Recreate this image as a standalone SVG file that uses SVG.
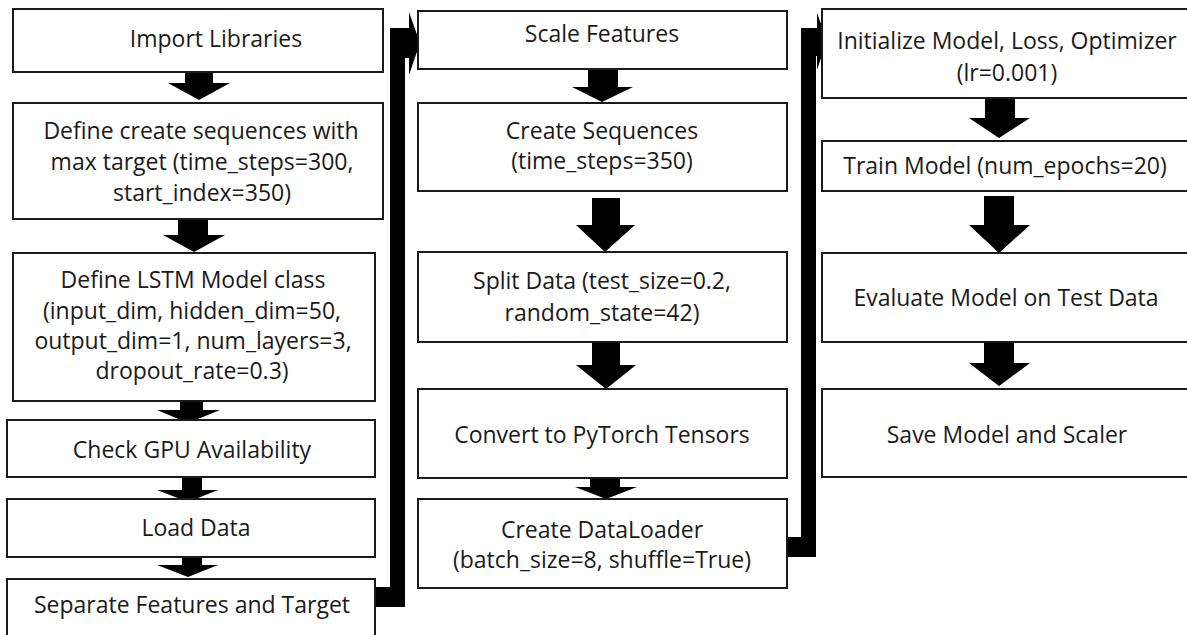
<svg xmlns="http://www.w3.org/2000/svg" width="1187" height="635" viewBox="0 0 1187 635">
<style>
.box{fill:#fff;stroke:#1a1a1a;stroke-width:2}
.t{font-family:"Open Sans","Liberation Sans",sans-serif;font-size:23px;fill:#1a1a1a;text-anchor:middle}
.arr{fill:#000}
</style>
<rect width="1187" height="635" fill="#fff"/>
<g id="connectors">
<polygon class="arr" points="185,72 213,72 213,83 230,83 199,100 168,83 185,83"/>
<polygon class="arr" points="178,220 208,220 208,235 225,235 194,252 163,235 178,235"/>
<polygon class="arr" points="180,401 203,401 203,410 220,410 188,423 157,410 180,410"/>
<polygon class="arr" points="182,477 202,477 202,490 218,490 188,502 157,490 182,490"/>
<polygon class="arr" points="182,557 202,557 202,565 218,565 188,577 157,565 182,565"/>
<polygon class="arr" points="588,69 618,69 618,87 633,87 602,102 572,87 588,87"/>
<polygon class="arr" points="592,198 620,198 620,225 635,225 605,252 576,225 592,225"/>
<polygon class="arr" points="592,342 620,342 620,365 636,365 606,389 576,365 592,365"/>
<polygon class="arr" points="590,476 620,476 620,487 637,487 606,499 575,487 590,487"/>
<polygon class="arr" points="985,98 1015,98 1015,118 1030,118 999,138 969,118 985,118"/>
<polygon class="arr" points="984,196 1014,196 1014,225 1030,225 999,253 969,225 984,225"/>
<polygon class="arr" points="984,342 1014,342 1014,363 1030,363 999,386 969,363 984,363"/>
<polygon class="arr" points="375,587 390,587 390,28 409,28 409,12 420,43 409,75 409,58 405,58 405,607 375,607"/>
<polygon class="arr" points="786,537 801,537 801,28 817,28 817,13 827,40 817,70 817,56 816,56 816,557 786,557"/>
</g>
<g id="n1"><rect class="box" x="13" y="9" width="370" height="63"/><text class="t" x="216" y="47">Import Libraries</text></g>
<g id="n2"><rect class="box" x="13" y="103" width="370" height="116"/><text class="t" x="201" y="139">Define create sequences with</text><text class="t" x="202" y="170">max target (time_steps=300,</text><text class="t" x="202" y="201">start_index=350)</text></g>
<g id="n3"><rect class="box" x="13" y="253" width="362" height="148"/><text class="t" x="193" y="288">Define LSTM Model class</text><text class="t" x="192" y="319">(input_dim, hidden_dim=50,</text><text class="t" x="193" y="349">output_dim=1, num_layers=3,</text><text class="t" x="192" y="379">dropout_rate=0.3)</text></g>
<g id="n4"><rect class="box" x="7" y="420" width="368" height="57"/><text class="t" x="192" y="458">Check GPU Availability</text></g>
<g id="n5"><rect class="box" x="7" y="499" width="368" height="58"/><text class="t" x="196" y="536">Load Data</text></g>
<g id="n6"><rect class="box" x="7" y="579" width="368" height="70"/><text class="t" x="192" y="613">Separate Features and Target</text></g>
<g id="n7"><rect class="box" x="418" y="11" width="369" height="58"/><text class="t" x="602" y="42">Scale Features</text></g>
<g id="n8"><rect class="box" x="418" y="103" width="369" height="88"/><text class="t" x="602" y="139">Create Sequences</text><text class="t" x="602" y="169">(time_steps=350)</text></g>
<g id="n9"><rect class="box" x="418" y="252" width="369" height="90"/><text class="t" x="602" y="289">Split Data (test_size=0.2,</text><text class="t" x="602" y="321">random_state=42)</text></g>
<g id="n10"><rect class="box" x="418" y="389" width="369" height="89"/><text class="t" x="602" y="443">Convert to PyTorch Tensors</text></g>
<g id="n11"><rect class="box" x="418" y="499" width="369" height="89"/><text class="t" x="602" y="538">Create DataLoader</text><text class="t" x="602" y="568">(batch_size=8, shuffle=True)</text></g>
<g id="n12"><rect class="box" x="822" y="9" width="370" height="89"/><text class="t" x="1007" y="49">Initialize Model, Loss, Optimizer</text><text class="t" x="1007" y="81">(lr=0.001)</text></g>
<g id="n13"><rect class="box" x="822" y="141" width="370" height="50"/><text class="t" x="1005" y="174">Train Model (num_epochs=20)</text></g>
<g id="n14"><rect class="box" x="822" y="253" width="370" height="89"/><text class="t" x="1006" y="306">Evaluate Model on Test Data</text></g>
<g id="n15"><rect class="box" x="822" y="389" width="370" height="88"/><text class="t" x="1007" y="443">Save Model and Scaler</text></g>
</svg>
